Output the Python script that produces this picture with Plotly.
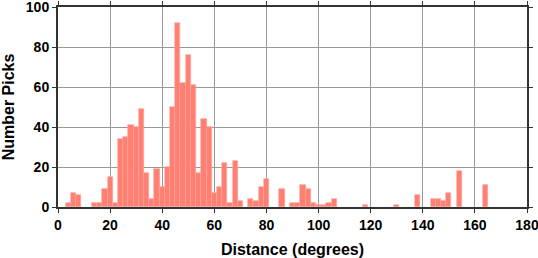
import plotly.graph_objects as go

# bin centers (degrees) and counts
centers = [4, 6, 8, 14, 16, 18, 20, 22, 24, 26, 28, 30, 32, 34, 36, 38, 40,
           42, 44, 46, 48, 50, 52, 54, 56, 58, 60, 62, 64, 66, 68, 70,
           74, 76, 78, 80, 86, 90, 92, 94, 96, 98, 100, 102, 104, 106,
           118, 130, 138, 144, 146, 148, 150, 154, 164]
counts = [2, 7, 6, 2, 2, 9, 15, 2, 34, 35, 41, 40, 49, 17, 4, 19, 10,
          20, 50, 92, 62, 76, 61, 17, 44, 40, 7, 10, 22, 2, 23, 3,
          4, 3, 10, 14, 9, 2, 2, 11, 9, 2, 1, 1, 2, 4,
          1, 1, 6, 4, 4, 3, 7, 18, 11]
x_ticks = [0, 20, 40, 60, 80, 100, 120, 140, 160, 180]
y_ticks = [0, 20, 40, 60, 80, 100]

fig = go.Figure(go.Bar(
    x=centers, y=counts, width=2,
    marker=dict(color="#FF7F73",
                line=dict(color="#FFA59B", width=0.6)),
))

font = dict(family="Liberation Sans, Arial, sans-serif", size=14, color="black", weight="bold")
axis_common = dict(
    showline=True, linecolor="#333", linewidth=2, mirror="allticks",
    ticks="outside", ticklen=4, tickcolor="#333", tickwidth=1,
    showgrid=True, gridcolor="#999", gridwidth=1, zeroline=False,
    tickfont=font, automargin=False, ticklabeloverflow="allow",
)
fig.update_layout(
    width=538, height=258,
    margin=dict(l=58, r=11, t=7, b=51),
    paper_bgcolor="white", plot_bgcolor="white",
    showlegend=False, bargap=0,
    xaxis=dict(range=[0, 180], tickvals=x_ticks,
               title=dict(text="Distance (degrees)", font=dict(font, size=16)),
               **axis_common),
    yaxis=dict(range=[0, 100], tickvals=y_ticks,
               title=dict(text="Number Picks", font=dict(font, size=16)),
               **axis_common),
)
fig.write_html("out.html")
